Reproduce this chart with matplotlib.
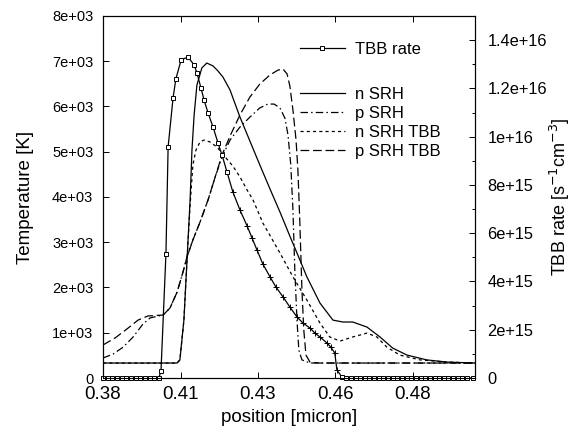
import matplotlib
matplotlib.use("Agg")
import matplotlib.pyplot as plt
from matplotlib.lines import Line2D

plt.rcParams['font.family'] = ['Liberation Sans', 'DejaVu Sans']

# position [micron] and rates in units of 1e15 s^-1 cm^-3
tbb_x = [0.3800, 0.3815, 0.3830, 0.3845, 0.3860, 0.3875, 0.3890, 0.3905, 0.3920, 0.3935,
         0.3950, 0.3965, 0.3980, 0.3987, 0.4003, 0.4010, 0.4026, 0.4035, 0.4052, 0.4074,
         0.4094, 0.4103, 0.4116, 0.4126, 0.4139, 0.4155, 0.4171, 0.4184, 0.4200, 0.4219,
         0.4242, 0.4265, 0.4281, 0.4297, 0.4316, 0.4339, 0.4358, 0.4381, 0.4403, 0.4426,
         0.4445, 0.4468, 0.4484, 0.4500, 0.4523, 0.4535, 0.4548, 0.4555, 0.4571, 0.4585,
         0.4600, 0.4615, 0.4630, 0.4645, 0.4660, 0.4675, 0.4690, 0.4705, 0.4720, 0.4735,
         0.4750, 0.4765, 0.4780, 0.4795, 0.4810, 0.4825, 0.4840, 0.4855, 0.4870, 0.4885,
         0.4900, 0.4915, 0.4930, 0.4945, 0.4960, 0.4975, 0.4995]
tbb_y = [0, 0, 0, 0, 0, 0, 0, 0, 0, 0,
         0, 0, 0, 0.29, 5.14, 9.57, 11.61, 12.39, 13.18, 13.30,
         12.97, 12.64, 12.02, 11.52, 10.98, 10.40, 9.74, 9.24, 8.54, 7.71,
         6.96, 6.30, 5.80, 5.30, 4.72, 4.19, 3.77, 3.36, 2.94, 2.53,
         2.28, 2.07, 1.86, 1.70, 1.45, 1.28, 1.04, 0.33, 0.04, 0,
         0, 0, 0, 0, 0, 0, 0, 0, 0, 0,
         0, 0, 0, 0, 0, 0, 0, 0, 0, 0,
         0, 0, 0, 0, 0, 0, 0]

n_srh_x = [0.3800, 0.4039, 0.4048, 0.4061, 0.4071, 0.4081, 0.4087, 0.4094, 0.4103, 0.4119,
           0.4135, 0.4155, 0.4171, 0.4187, 0.4210, 0.4242, 0.4274, 0.4306, 0.4339, 0.4371,
           0.4403, 0.4426, 0.4458, 0.4500, 0.4542, 0.4574, 0.4606, 0.4652, 0.4694, 0.4735,
           0.4781, 0.4845, 0.4910, 0.5000]
n_srh_y = [0.62, 0.62, 0.75, 2.40, 4.89, 7.38, 9.45, 10.90, 12.14, 12.85,
           13.05, 12.93, 12.72, 12.47, 11.93, 10.81, 9.82, 8.83, 7.83, 6.88,
           5.88, 5.18, 4.19, 3.11, 2.40, 2.32, 2.32, 2.11, 1.70, 1.24,
           0.95, 0.75, 0.66, 0.62]

p_srh_x = [0.3800, 0.3832, 0.3865, 0.3897, 0.3929, 0.3952, 0.3994, 0.4016, 0.4039, 0.4058,
           0.4071, 0.4090, 0.4113, 0.4139, 0.4161, 0.4184, 0.4210, 0.4242, 0.4274, 0.4306,
           0.4332, 0.4352, 0.4371, 0.4387, 0.4397, 0.4406, 0.4413, 0.4419, 0.4426, 0.4432,
           0.4442, 0.4468, 0.5000]
p_srh_y = [0.83, 0.99, 1.28, 1.70, 2.24, 2.49, 2.61, 2.90, 3.56, 4.39,
           5.01, 5.72, 6.46, 7.38, 8.29, 9.16, 9.86, 10.40, 10.81, 11.19,
           11.35, 11.35, 11.19, 10.77, 10.07, 8.83, 6.96, 4.48, 2.40, 1.16,
           0.75, 0.62, 0.62]

n_tbb_x = [0.3800, 0.4039, 0.4048, 0.4061, 0.4071, 0.4081, 0.4090, 0.4100, 0.4113, 0.4126,
           0.4145, 0.4168, 0.4194, 0.4219, 0.4242, 0.4265, 0.4284, 0.4316, 0.4371, 0.4413,
           0.4458, 0.4500, 0.4532, 0.4565, 0.4606, 0.4652, 0.4684, 0.4716, 0.4758, 0.4823,
           0.4910, 0.5000]
n_tbb_y = [0.62, 0.62, 0.75, 2.40, 4.89, 7.17, 8.83, 9.45, 9.78, 9.86,
           9.78, 9.57, 9.16, 8.78, 8.33, 7.79, 7.38, 6.42, 5.18, 4.19,
           3.23, 2.28, 1.70, 1.53, 1.70, 1.86, 1.70, 1.28, 0.95, 0.75,
           0.66, 0.62]

p_tbb_x = [0.3800, 0.3839, 0.3881, 0.3913, 0.3945, 0.3994, 0.4016, 0.4039, 0.4058, 0.4071,
           0.4090, 0.4113, 0.4139, 0.4161, 0.4184, 0.4210, 0.4242, 0.4274, 0.4306, 0.4339,
           0.4365, 0.4381, 0.4394, 0.4403, 0.4413, 0.4423, 0.4429, 0.4435, 0.4442, 0.4448,
           0.4455, 0.4468, 0.4500, 0.5000]
p_tbb_y = [1.37, 1.66, 2.07, 2.40, 2.57, 2.61, 2.90, 3.56, 4.39, 5.01,
           5.72, 6.46, 7.38, 8.29, 9.24, 10.03, 10.90, 11.64, 12.18, 12.56,
           12.76, 12.80, 12.60, 12.10, 11.10, 9.86, 8.62, 6.55, 3.65, 1.99,
           0.95, 0.66, 0.62, 0.62]

x_ticks = [0.38, 0.405, 0.43, 0.455, 0.48]
x_labels = ['0.38', '0.41', '0.43', '0.46', '0.48']
t_ticks = [0, 1000, 2000, 3000, 4000, 5000, 6000, 7000, 8000]
t_labels = ['0', '1e+03', '2e+03', '3e+03', '4e+03', '5e+03', '6e+03', '7e+03', '8e+03']
r_ticks = [0, 2e15, 4e15, 6e15, 8e15, 1e16, 1.2e16, 1.4e16]
r_labels = ['0', '2e+15', '4e+15', '6e+15', '8e+15', '1e+16', '1.2e+16', '1.4e+16']

scale = 1e15

fig = plt.figure(figsize=(5.79, 4.32), dpi=100)
ax = fig.add_axes([0.178, 0.125, 0.642, 0.838])
ax2 = ax.twinx()

ax.set_xlim(0.38, 0.50)
ax.set_ylim(0, 8000)
ax2.set_ylim(0, 1.5e16)

lw = 0.9
ax2.plot(n_srh_x, [v * scale for v in n_srh_y], color='k', lw=lw, label='n SRH')
ax2.plot(p_srh_x, [v * scale for v in p_srh_y], color='k', lw=lw, dashes=(6, 2.5, 1.2, 2.5), label='p SRH')
ax2.plot(n_tbb_x, [v * scale for v in n_tbb_y], color='k', lw=lw, dashes=(2.5, 2.5), label='n SRH TBB')
ax2.plot(p_tbb_x, [v * scale for v in p_tbb_y], color='k', lw=lw, dashes=(7, 3), label='p SRH TBB')

# TBB rate: squares on the zero stretches and around the peak, crosses on the tail
tbb_vals = [v * scale for v in tbb_y]
ax2.plot(tbb_x, tbb_vals, color='k', lw=lw)
sq = [i for i, x in enumerate(tbb_x) if x < 0.4215 or x > 0.4560]
pl = [i for i, x in enumerate(tbb_x) if 0.4215 <= x <= 0.4560]
ax2.plot([tbb_x[i] for i in sq], [tbb_vals[i] for i in sq], ls='none', marker='s',
         ms=3.3, mfc='white', mec='k', mew=0.7, clip_on=False)
ax2.plot([tbb_x[i] for i in pl], [tbb_vals[i] for i in pl], ls='none', marker='+',
         ms=5, mec='k', mew=0.7)

ax.set_xticks(x_ticks)
ax.set_xticklabels(x_labels, fontsize=13.5)
ax.set_yticks(t_ticks)
ax.set_yticklabels(t_labels, fontsize=10.5)
ax2.set_yticks(r_ticks)
ax2.set_yticklabels(r_labels, fontsize=11.8)
ax2.set_yticks([1e15, 3e15, 5e15, 7e15, 9e15, 1.1e16, 1.3e16, 1.5e16], minor=True)

ax.tick_params(axis='x', direction='in', top=True, length=4, width=0.7, pad=6)
ax.tick_params(axis='y', direction='in', length=4, width=0.7, pad=7)
ax2.tick_params(axis='y', which='both', direction='in', length=4, width=0.7, pad=9)
ax2.tick_params(axis='y', which='minor', length=2.5)

ax.set_xlabel('position [micron]', fontsize=13.5, labelpad=4)
ax.set_ylabel('Temperature [K]', fontsize=13.5, labelpad=13)
ax2.set_ylabel('TBB rate [s$^{-1}$cm$^{-3}$]', fontsize=13, labelpad=1)

for a in (ax, ax2):
    for s in a.spines.values():
        s.set_linewidth(0.8)

tbb_handle = Line2D([], [], color='k', lw=lw, marker='s', ms=3.3, mfc='white', mec='k', mew=0.7)
leg_kw = dict(loc='upper left', bbox_transform=fig.transFigure, frameon=False, fontsize=12,
              handlelength=2.7, handletextpad=0.6, borderpad=0, borderaxespad=0)
leg1 = ax2.legend([tbb_handle], ['TBB rate'], bbox_to_anchor=(0.518, 0.903), **leg_kw)
ax2.add_artist(leg1)
ax2.legend(bbox_to_anchor=(0.518, 0.799), labelspacing=0.25, **leg_kw)

fig.savefig('out.png', dpi=100)
